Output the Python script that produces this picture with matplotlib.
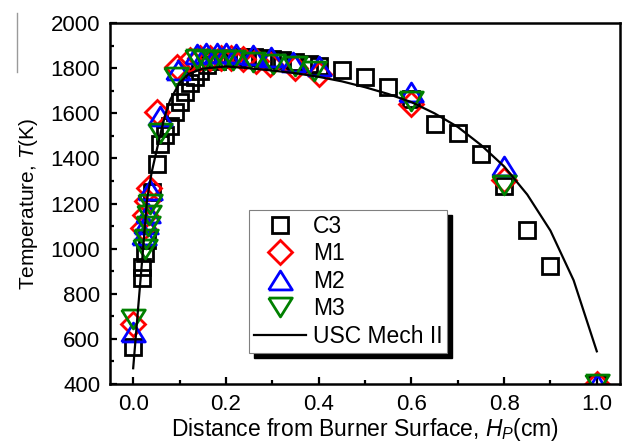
#!/usr/bin/python3
# -*- coding: utf-8 -*-

'''
Flame temperature profiles vs distance from burner surface
'''

import matplotlib
matplotlib.use('Agg')
import matplotlib.pyplot as plt
from matplotlib.lines import Line2D
from matplotlib.markers import MarkerStyle
from matplotlib.patches import Rectangle
from matplotlib.ticker import MultipleLocator

# C3 measurements (squares)
hp_c3 = [0.0, 0.018, 0.02, 0.025, 0.03, 0.04, 0.051, 0.058, 0.068, 0.08,
         0.09, 0.1, 0.112, 0.123, 0.133, 0.145, 0.16, 0.18, 0.2, 0.22,
         0.24, 0.26, 0.28, 0.3, 0.32, 0.35, 0.38, 0.4, 0.45, 0.5,
         0.55, 0.6, 0.65, 0.7, 0.75, 0.8, 0.85, 0.9, 1.0]
t_c3 = [565, 868, 920, 980, 1040, 1250, 1375, 1462, 1505, 1545,
        1607, 1651, 1695, 1734, 1762, 1790, 1815, 1830, 1840, 1845,
        1848, 1848, 1845, 1840, 1835, 1828, 1820, 1812, 1793, 1762,
        1718, 1665, 1555, 1514, 1418, 1278, 1082, 922, 400]

# M1 (diamonds)
hp_m1 = [0.0, 0.022, 0.026, 0.03, 0.035, 0.051, 0.094, 0.123, 0.145, 0.165,
         0.19, 0.212, 0.237, 0.265, 0.295, 0.348, 0.4, 0.6, 0.8, 1.0]
t_m1 = [666, 1090, 1150, 1210, 1270, 1607, 1806, 1836, 1845, 1845,
        1847, 1847, 1840, 1830, 1817, 1803, 1775, 1640, 1304, 400]

# M2 (up triangles)
hp_m2 = [0.0, 0.024, 0.028, 0.031, 0.037, 0.058, 0.097, 0.137, 0.158, 0.18,
         0.2, 0.222, 0.259, 0.298, 0.345, 0.4, 0.6, 0.8, 1.0]
t_m2 = [632, 1060, 1110, 1160, 1262, 1590, 1792, 1865, 1866, 1866,
        1866, 1864, 1860, 1851, 1828, 1812, 1695, 1368, 400]

# M3 (down triangles)
hp_m3 = [0.0, 0.025, 0.028, 0.031, 0.034, 0.037, 0.058, 0.092, 0.137, 0.155,
         0.175, 0.195, 0.215, 0.259, 0.302, 0.35, 0.391, 0.6, 0.8, 1.0]
t_m3 = [688, 1000, 1045, 1100, 1150, 1200, 1515, 1762, 1840, 1838,
        1838, 1836, 1835, 1829, 1821, 1812, 1786, 1656, 1282, 400]

# USC Mech II simulation
hp_usc = [0.0, 0.01, 0.02, 0.03, 0.04, 0.05, 0.06, 0.07, 0.08, 0.1,
          0.12, 0.15, 0.2, 0.25, 0.3, 0.35, 0.4, 0.45, 0.5, 0.55,
          0.6, 0.65, 0.7, 0.75, 0.8, 0.85, 0.9, 0.95, 1.0]
t_usc = [470, 720, 965, 1220, 1340, 1430, 1520, 1600, 1660, 1735,
         1775, 1798, 1808, 1800, 1790, 1778, 1762, 1742, 1716, 1686,
         1650, 1600, 1540, 1460, 1365, 1240, 1080, 860, 545]

plt.rcParams['font.family'] = ['Liberation Sans', 'DejaVu Sans']
plt.rcParams['mathtext.fontset'] = 'custom'
plt.rcParams['mathtext.rm'] = 'Liberation Sans'
plt.rcParams['mathtext.it'] = 'Liberation Sans:italic'

TRI_UP = MarkerStyle([(-1, -0.8), (1, -0.8), (0, 0.8), (-1, -0.8)],
                     joinstyle='miter')
TRI_DOWN = MarkerStyle([(-1, 0.8), (1, 0.8), (0, -0.8), (-1, 0.8)],
                       joinstyle='miter')


def main():
    '''
    Main function
    '''
    fig = plt.figure(figsize=(6.3, 4.45), dpi=100)
    ax = fig.add_axes([0.1746, 0.137, 0.8095, 0.811])

    mew = 2.0
    ax.plot(hp_c3, t_c3, ls='none', marker='s', ms=11.5, mfc='none',
            mec='black', mew=mew, label='C3')
    ax.plot(hp_m1, t_m1, ls='none', marker='D', ms=12, mfc='none',
            mec='#ff0000', mew=mew, label='M1')
    ax.plot(hp_m2, t_m2, ls='none', marker=TRI_UP, ms=17, mfc='none',
            mec='#0000ff', mew=mew, label='M2')
    ax.plot(hp_m3, t_m3, ls='none', marker=TRI_DOWN, ms=17, mfc='none',
            mec='#008000', mew=mew, label='M3')
    ax.plot(hp_usc, t_usc, color='black', lw=1.6, label='USC Mech II')

    ax.set_xlim(-0.05, 1.05)
    ax.set_ylim(400, 2000)
    ax.xaxis.set_major_locator(MultipleLocator(0.2))
    ax.xaxis.set_minor_locator(MultipleLocator(0.1))
    ax.yaxis.set_major_locator(MultipleLocator(200))
    ax.yaxis.set_minor_locator(MultipleLocator(100))
    ax.xaxis.set_major_formatter(lambda v, p: f'{v:.1f}')
    ax.tick_params(which='both', direction='in', top=False, right=False,
                   width=1.6, labelsize=16, pad=7)
    ax.tick_params(which='major', length=5)
    ax.tick_params(which='minor', length=3)
    for sp in ax.spines.values():
        sp.set_linewidth(1.8)

    ax.set_xlabel('Distance from Burner Surface, $H_P$(cm)', fontsize=16.5,
                  labelpad=1)
    ax.set_ylabel('Temperature, $T$(K)', fontsize=15, labelpad=8)

    leg = ax.legend(loc='upper left', bbox_to_anchor=(0.2725, 0.482),
                    borderaxespad=0, fontsize=16.5, fancybox=False,
                    handlelength=2.3, handletextpad=0.3, borderpad=0.2,
                    labelspacing=0.2, framealpha=1)
    leg.get_frame().set_edgecolor('#808080')
    leg.get_frame().set_linewidth(0.8)

    # solid black drop shadow behind the legend box, in axes fraction
    fig.canvas.draw()
    box = leg.get_frame().get_window_extent()
    box = box.transformed(ax.transAxes.inverted())
    dx = 5 / ax.bbox.width
    dy = 5 / ax.bbox.height
    ax.add_patch(Rectangle((box.x0 + dx, box.y0 - dy), box.width,
                           box.height, transform=ax.transAxes,
                           facecolor='black', edgecolor='black', zorder=4.9))

    # stray mark at the left edge of the original figure
    fig.add_artist(Line2D([0.027, 0.027], [0.971, 0.838], color='#9a9a9a',
                          lw=1))

    fig.savefig('out.png', dpi=100)


if __name__ == '__main__':
    main()
